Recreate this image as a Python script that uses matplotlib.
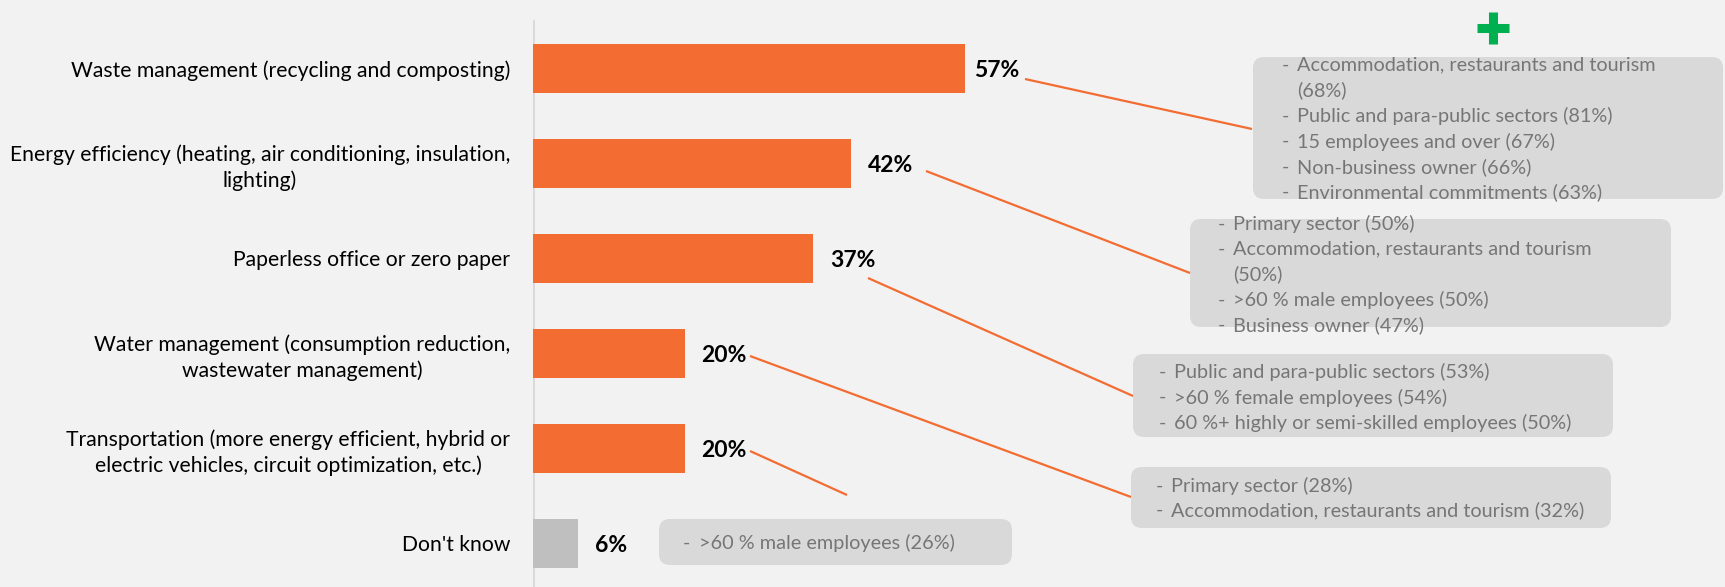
import matplotlib.pyplot as plt
from matplotlib.patches import FancyBboxPatch

plt.rcParams['font.family'] = ['Lato', 'DejaVu Sans']

# survey results
categories = [
    "Waste management (recycling and composting)",
    "Energy efficiency (heating, air conditioning, insulation,\nlighting)",
    "Paperless office or zero paper",
    "Water management (consumption reduction,\nwastewater management)",
    "Transportation (more energy efficient, hybrid or\nelectric vehicles, circuit optimization, etc.)",
    "Don't know",
]
values = [57, 42, 37, 20, 20, 6]

# over-represented profiles per answer
profiles_waste = ["Accommodation, restaurants and tourism\n(68%)",
                  "Public and para-public sectors (81%)",
                  "15 employees and over (67%)",
                  "Non-business owner (66%)",
                  "Environmental commitments (63%)"]
profiles_energy = ["Primary sector (50%)",
                   "Accommodation, restaurants and tourism\n(50%)",
                   ">60 % male employees (50%)",
                   "Business owner (47%)"]
profiles_paper = ["Public and para-public sectors (53%)",
                  ">60 % female employees (54%)",
                  "60 %+ highly or semi-skilled employees (50%)"]
profiles_water = ["Primary sector (28%)",
                  "Accommodation, restaurants and tourism (32%)"]
profiles_dont_know = [">60 % male employees (26%)"]

ORANGE = '#F36C32'
GREY_BAR = '#BFBFBF'
BG = '#F2F2F2'
BOX = '#D9D9D9'
BOX_TEXT = '#767676'

W, H = 1725, 587
fig = plt.figure(figsize=(W / 100, H / 100), dpi=100, facecolor=BG)

# bar axes: x=0 sits at pixel 533, 7.58 px per percentage point
x0 = 533
px_per_pct = 7.58
row_px = 95.0
first_row_px = 68.3
ax = fig.add_axes([x0 / W, 0, 1 - x0 / W, 1])
ax.set_facecolor('none')
ax.set_xlim(0, (W - x0) / px_per_pct)
ax.set_ylim((H - first_row_px) / row_px, -first_row_px / row_px)

colors = [ORANGE] * (len(values) - 1) + [GREY_BAR]
ax.barh(range(len(values)), values, height=0.513, color=colors, zorder=2)
ax.axvline(0, ymin=0, ymax=1 - 21 / H, color='#D9D9D9', lw=2, zorder=1)

ax.set_yticks(range(len(categories)), categories)
ax.tick_params(axis='y', length=0, pad=23 * 0.72, labelsize=15.2, labelcolor='black')
for lbl in ax.get_yticklabels():
    lbl.set_multialignment('center')
    lbl.set_linespacing(1.3)
ax.set_xticks([])
for s in ax.spines.values():
    s.set_visible(False)

label_gap_px = [9, 17, 17, 17, 17, 17]
for i, v in enumerate(values):
    ax.annotate(f"{v}%", xy=(v, i), xytext=(label_gap_px[i] * 0.72, -1.5),
                textcoords='offset points', ha='left', va='center',
                fontsize=16.5, fontweight='bold', color='black')

# overlay in pixel coordinates for callouts
ov = fig.add_axes([0, 0, 1, 1])
ov.set_xlim(0, W)
ov.set_ylim(H, 0)
ov.axis('off')

connectors = [
    ((1025, 79), (1252, 129)),
    ((926, 171), (1190, 273)),
    ((868, 278), (1133, 396)),
    ((750, 356), (1131, 497)),
    ((750, 451), (847, 495)),
]
for (xa, ya), (xb, yb) in connectors:
    ov.plot([xa, xb], [ya, yb], color=ORANGE, lw=1.6, solid_capstyle='butt')

# (box x0, y0, x1, y1, dash x, text x, first line y, line step, items)
boxes = [
    (1253, 57, 1723, 199, 1282, 1297, 65, 25.5, profiles_waste),
    (1190, 219, 1671, 327, 1218, 1233, 224, 25.25, profiles_energy),
    (1133, 354, 1613, 437, 1159, 1174, 372, 25.5, profiles_paper),
    (1131, 467, 1611, 528, 1156, 1171, 486, 24.3, profiles_water),
    (659, 519, 1012, 565, 683, 699, 543, 25, profiles_dont_know),
]
for bx0, by0, bx1, by1, dx, tx, ly, step, items in boxes:
    ov.add_patch(FancyBboxPatch((bx0, by0), bx1 - bx0, by1 - by0,
                                boxstyle='round,pad=0,rounding_size=11',
                                fc=BOX, ec='none', zorder=1))
    row = 0
    for item in items:
        ov.text(dx, ly + row * step, '-', ha='left', va='center',
                fontsize=14.3, color=BOX_TEXT, zorder=3)
        for line in item.split('\n'):
            ov.text(tx, ly + row * step, line, ha='left', va='center',
                    fontsize=14.3, color=BOX_TEXT, zorder=3)
            row += 1

# green plus marker above the first callout
ov.plot([1477, 1509], [28.3, 28.3], color='#00B050', lw=6.5, solid_capstyle='butt')
ov.plot([1493, 1493], [12.3, 44.3], color='#00B050', lw=6.5, solid_capstyle='butt')

fig.savefig('out.png', dpi=100, facecolor=BG)
